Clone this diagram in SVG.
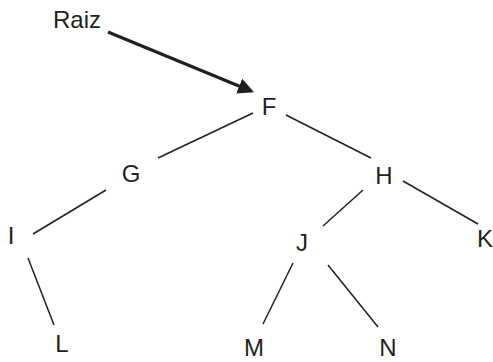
<svg xmlns="http://www.w3.org/2000/svg" width="493" height="362" viewBox="0 0 493 362">
<style>
text{font-family:"Liberation Sans",Arial,sans-serif;font-size:24px;fill:#231f20;text-anchor:middle}
.e{stroke:#231f20;stroke-width:1.5;fill:none}
.a{stroke:#231f20;stroke-width:3.2;fill:none}
</style>
<defs>
<marker id="ah" markerWidth="5" markerHeight="5" refX="4" refY="2.5" orient="auto" markerUnits="strokeWidth">
<path d="M0,0 L5,2.5 L0,5 Z" fill="#231f20"/>
</marker>
</defs>
<rect width="493" height="362" fill="#fff"/>
<g id="connectors">
<line class="a" x1="108" y1="32" x2="251" y2="91" marker-end="url(#ah)"/>
<line class="e" x1="253" y1="113" x2="158" y2="158"/>
<line class="e" x1="286" y1="115" x2="371" y2="158"/>
<line class="e" x1="106" y1="190" x2="33" y2="234"/>
<line class="e" x1="28" y1="258" x2="54" y2="325"/>
<line class="e" x1="363" y1="190" x2="323" y2="226"/>
<line class="e" x1="403" y1="181" x2="478" y2="224"/>
<line class="e" x1="293" y1="263" x2="263" y2="324"/>
<line class="e" x1="328" y1="265" x2="378" y2="327"/>
</g>
<g id="raiz"><text x="77" y="28">Raiz</text></g>
<g id="F"><text x="269" y="115">F</text></g>
<g id="G"><text x="131" y="182">G</text></g>
<g id="H"><text x="384" y="184">H</text></g>
<g id="I"><text x="11" y="244">I</text></g>
<g id="J"><text x="302" y="251">J</text></g>
<g id="K"><text x="485" y="247">K</text></g>
<g id="L"><text x="62" y="352">L</text></g>
<g id="M"><text x="254" y="356">M</text></g>
<g id="N"><text x="388" y="356">N</text></g>
</svg>
